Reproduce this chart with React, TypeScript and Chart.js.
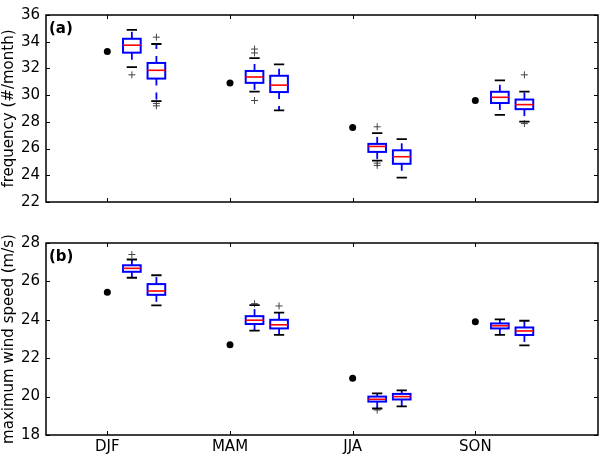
import React, { useEffect, useRef } from 'react';
import { Chart, registerables } from 'chart.js';

Chart.register(...registerables);

// ---------- data ----------
const categories = ['DJF', 'MAM', 'JJA', 'SON'];
const categoryPositions = [1, 2, 3, 4];
const box1Offset = 0.2;
const box2Offset = 0.4;

// panel (a): frequency (#/month)
const freqObserved = [33.27, 30.9, 27.58, 29.6];
const freqBox1Low = [32.1, 30.27, 25.1, 28.52];
const freqBox1Q1 = [33.18, 30.92, 25.75, 29.41];
const freqBox1Median = [33.74, 31.36, 26.16, 29.84];
const freqBox1Q3 = [34.22, 31.81, 26.35, 30.25];
const freqBox1High = [34.89, 32.77, 27.15, 31.11];
const freqBox1Fliers = [[31.52], [33.45, 33.16, 29.6], [27.63, 24.91, 24.74], []];
const freqBox2Low = [29.55, 28.86, 23.83, 28.01];
const freqBox2Q1 = [31.24, 30.23, 24.86, 28.95];
const freqBox2Median = [31.86, 30.75, 25.39, 29.29];
const freqBox2Q3 = [32.41, 31.45, 25.87, 29.67];
const freqBox2High = [33.83, 32.3, 26.71, 30.27];
const freqBox2Fliers = [[34.34, 29.38, 29.2], [], [], [31.52, 27.87]];
const freqTicks = { min: 22, max: 36, step: 2 };

// panel (b): maximum wind speed (m/s)
const windObserved = [25.44, 22.7, 20.96, 23.9];
const windBox1Low = [26.19, 23.44, 19.38, 23.21];
const windBox1Q1 = [26.5, 23.78, 19.74, 23.55];
const windBox1Median = [26.68, 23.98, 19.86, 23.69];
const windBox1Q3 = [26.84, 24.19, 20.0, 23.81];
const windBox1High = [27.14, 24.76, 20.17, 24.02];
const windBox1Fliers = [[27.4], [24.84], [19.3], []];
const windBox2Low = [24.75, 23.21, 19.49, 22.67];
const windBox2Q1 = [25.3, 23.55, 19.85, 23.21];
const windBox2Median = [25.5, 23.74, 20.0, 23.42];
const windBox2Q3 = [25.86, 24.0, 20.14, 23.6];
const windBox2High = [26.32, 24.37, 20.32, 23.95];
const windBox2Fliers = [[], [24.72], [], []];
const windTicks = { min: 18, max: 28, step: 2 };

// ---------- styling ----------
const FONT = 'DejaVu Sans';
const BOX_HALF = 0.072;
const CAP_HALF = 0.042;

type BoxGroup = {
  offset: number;
  low: number[];
  q1: number[];
  med: number[];
  q3: number[];
  high: number[];
  fliers: number[][];
};

function makePlugin(groups: BoxGroup[], label: string) {
  return {
    id: 'boxes',
    afterDatasetsDraw(chart: any) {
      const { ctx } = chart;
      const x = chart.scales.x;
      const y = chart.scales.y;
      ctx.save();
      for (const g of groups) {
        for (let i = 0; i < categoryPositions.length; i++) {
          const xv = categoryPositions[i] + g.offset;
          const cx = x.getPixelForValue(xv);
          const hw = x.getPixelForValue(xv + BOX_HALF) - cx;
          const cw = x.getPixelForValue(xv + CAP_HALF) - cx;
          const pLow = y.getPixelForValue(g.low[i]);
          const pQ1 = y.getPixelForValue(g.q1[i]);
          const pMed = y.getPixelForValue(g.med[i]);
          const pQ3 = y.getPixelForValue(g.q3[i]);
          const pHigh = y.getPixelForValue(g.high[i]);
          // whiskers
          ctx.strokeStyle = '#0000ff';
          ctx.lineWidth = 1.8;
          ctx.setLineDash([7, 7]);
          ctx.beginPath();
          ctx.moveTo(cx, pQ3);
          ctx.lineTo(cx, pHigh);
          ctx.stroke();
          ctx.beginPath();
          ctx.moveTo(cx, pQ1);
          ctx.lineTo(cx, pLow);
          ctx.stroke();
          ctx.setLineDash([]);
          // caps
          ctx.strokeStyle = '#000000';
          ctx.lineWidth = 1.8;
          ctx.beginPath();
          ctx.moveTo(cx - cw, pHigh);
          ctx.lineTo(cx + cw, pHigh);
          ctx.moveTo(cx - cw, pLow);
          ctx.lineTo(cx + cw, pLow);
          ctx.stroke();
          // box
          ctx.strokeStyle = '#0000ff';
          ctx.lineWidth = 2;
          ctx.strokeRect(cx - hw, pQ3, 2 * hw, pQ1 - pQ3);
          // median
          ctx.strokeStyle = '#ff0000';
          ctx.lineWidth = 1.6;
          ctx.beginPath();
          ctx.moveTo(cx - hw, pMed);
          ctx.lineTo(cx + hw, pMed);
          ctx.stroke();
        }
      }
      ctx.restore();
    },
    afterDraw(chart: any) {
      const { ctx, chartArea } = chart;
      const { left, right, top, bottom } = chartArea;
      const x = chart.scales.x;
      const y = chart.scales.y;
      ctx.save();
      ctx.strokeStyle = '#000';
      ctx.lineWidth = 1;
      ctx.beginPath();
      for (const t of y.ticks) {
        const py = Math.round(y.getPixelForValue(t.value)) + 0.5;
        ctx.moveTo(left, py);
        ctx.lineTo(left + 4, py);
        ctx.moveTo(right, py);
        ctx.lineTo(right - 4, py);
      }
      for (const v of categoryPositions) {
        const px = Math.round(x.getPixelForValue(v)) + 0.5;
        ctx.moveTo(px, bottom);
        ctx.lineTo(px, bottom - 4);
        ctx.moveTo(px, top);
        ctx.lineTo(px, top + 4);
      }
      ctx.stroke();
      ctx.lineWidth = 1.5;
      ctx.strokeRect(left, top, right - left, bottom - top);
      ctx.fillStyle = '#000';
      ctx.font = `bold 15px "${FONT}"`;
      ctx.textAlign = 'left';
      ctx.textBaseline = 'alphabetic';
      ctx.fillText(label, left + 3, top + 17.5);
      ctx.restore();
    },
  };
}

function buildConfig(opts: {
  observed: number[];
  groups: BoxGroup[];
  ticks: { min: number; max: number; step: number };
  title: string;
  label: string;
  showX: boolean;
  padTop: number;
  xHeight: number;
}) {
  const flierData: { x: number; y: number }[] = [];
  for (const g of opts.groups) {
    g.fliers.forEach((arr, i) => {
      arr.forEach((v) => flierData.push({ x: categoryPositions[i] + g.offset, y: v }));
    });
  }
  return {
    type: 'scatter' as const,
    data: {
      datasets: [
        {
          data: opts.observed.map((v, i) => ({ x: categoryPositions[i], y: v })),
          pointStyle: 'circle',
          pointRadius: 3.5,
          backgroundColor: '#000',
          borderColor: '#000',
          borderWidth: 0,
        },
        {
          data: flierData,
          pointStyle: 'cross',
          pointRadius: 3.5,
          borderColor: '#444',
          backgroundColor: '#444',
          borderWidth: 1,
        },
      ],
    },
    options: {
      animation: false,
      responsive: false,
      events: [],
      layout: { padding: { top: opts.padTop, right: 2, left: 0, bottom: 0 }, autoPadding: false },
      plugins: { legend: { display: false }, tooltip: { enabled: false } },
      scales: {
        x: {
          type: 'linear',
          min: 0.5,
          max: 5,
          grid: { display: false, drawTicks: false },
          border: { display: false },
          afterBuildTicks: (s: any) => {
            s.ticks = categoryPositions.map((v) => ({ value: v }));
          },
          ticks: {
            display: opts.showX,
            autoSkip: false,
            maxRotation: 0,
            padding: 3,
            color: '#000',
            font: { family: FONT, size: 15 },
            callback: (_v: any, i: number) => categories[i] ?? '',
          },
          afterFit: (s: any) => {
            s.height = opts.xHeight;
          },
        },
        y: {
          type: 'linear',
          min: opts.ticks.min,
          max: opts.ticks.max,
          grid: { display: false, drawTicks: false },
          border: { display: false },
          ticks: {
            stepSize: opts.ticks.step,
            padding: 6,
            color: '#000',
            font: { family: FONT, size: 15 },
          },
          title: {
            display: true,
            text: opts.title,
            color: '#000',
            padding: 0,
            font: { family: FONT, size: 15 },
          },
          afterFit: (s: any) => {
            s.width = 46;
          },
        },
      },
    },
    plugins: [makePlugin(opts.groups, opts.label)],
  };
}

export default function App() {
  const refA = useRef<HTMLCanvasElement>(null);
  const refB = useRef<HTMLCanvasElement>(null);

  useEffect(() => {
    const freqGroups: BoxGroup[] = [
      { offset: box1Offset, low: freqBox1Low, q1: freqBox1Q1, med: freqBox1Median, q3: freqBox1Q3, high: freqBox1High, fliers: freqBox1Fliers },
      { offset: box2Offset, low: freqBox2Low, q1: freqBox2Q1, med: freqBox2Median, q3: freqBox2Q3, high: freqBox2High, fliers: freqBox2Fliers },
    ];
    const windGroups: BoxGroup[] = [
      { offset: box1Offset, low: windBox1Low, q1: windBox1Q1, med: windBox1Median, q3: windBox1Q3, high: windBox1High, fliers: windBox1Fliers },
      { offset: box2Offset, low: windBox2Low, q1: windBox2Q1, med: windBox2Median, q3: windBox2Q3, high: windBox2High, fliers: windBox2Fliers },
    ];
    const a = new Chart(
      refA.current as HTMLCanvasElement,
      buildConfig({
        observed: freqObserved,
        groups: freqGroups,
        ticks: freqTicks,
        title: 'frequency (#/month)',
        label: '(a)',
        showX: false,
        padTop: 8,
        xHeight: 26,
      }) as any
    );
    const b = new Chart(
      refB.current as HTMLCanvasElement,
      buildConfig({
        observed: windObserved,
        groups: windGroups,
        ticks: windTicks,
        title: 'maximum wind speed (m/s)',
        label: '(b)',
        showX: true,
        padTop: 12,
        xHeight: 21,
      }) as any
    );
    return () => {
      a.destroy();
      b.destroy();
    };
  }, []);

  return (
    <div style={{ position: 'absolute', left: 0, top: 0, width: 600, height: 456, background: '#fff' }}>
      <canvas ref={refA} width={600} height={228} style={{ display: 'block', width: 600, height: 228 }} />
      <canvas ref={refB} width={600} height={228} style={{ display: 'block', width: 600, height: 228 }} />
    </div>
  );
}
